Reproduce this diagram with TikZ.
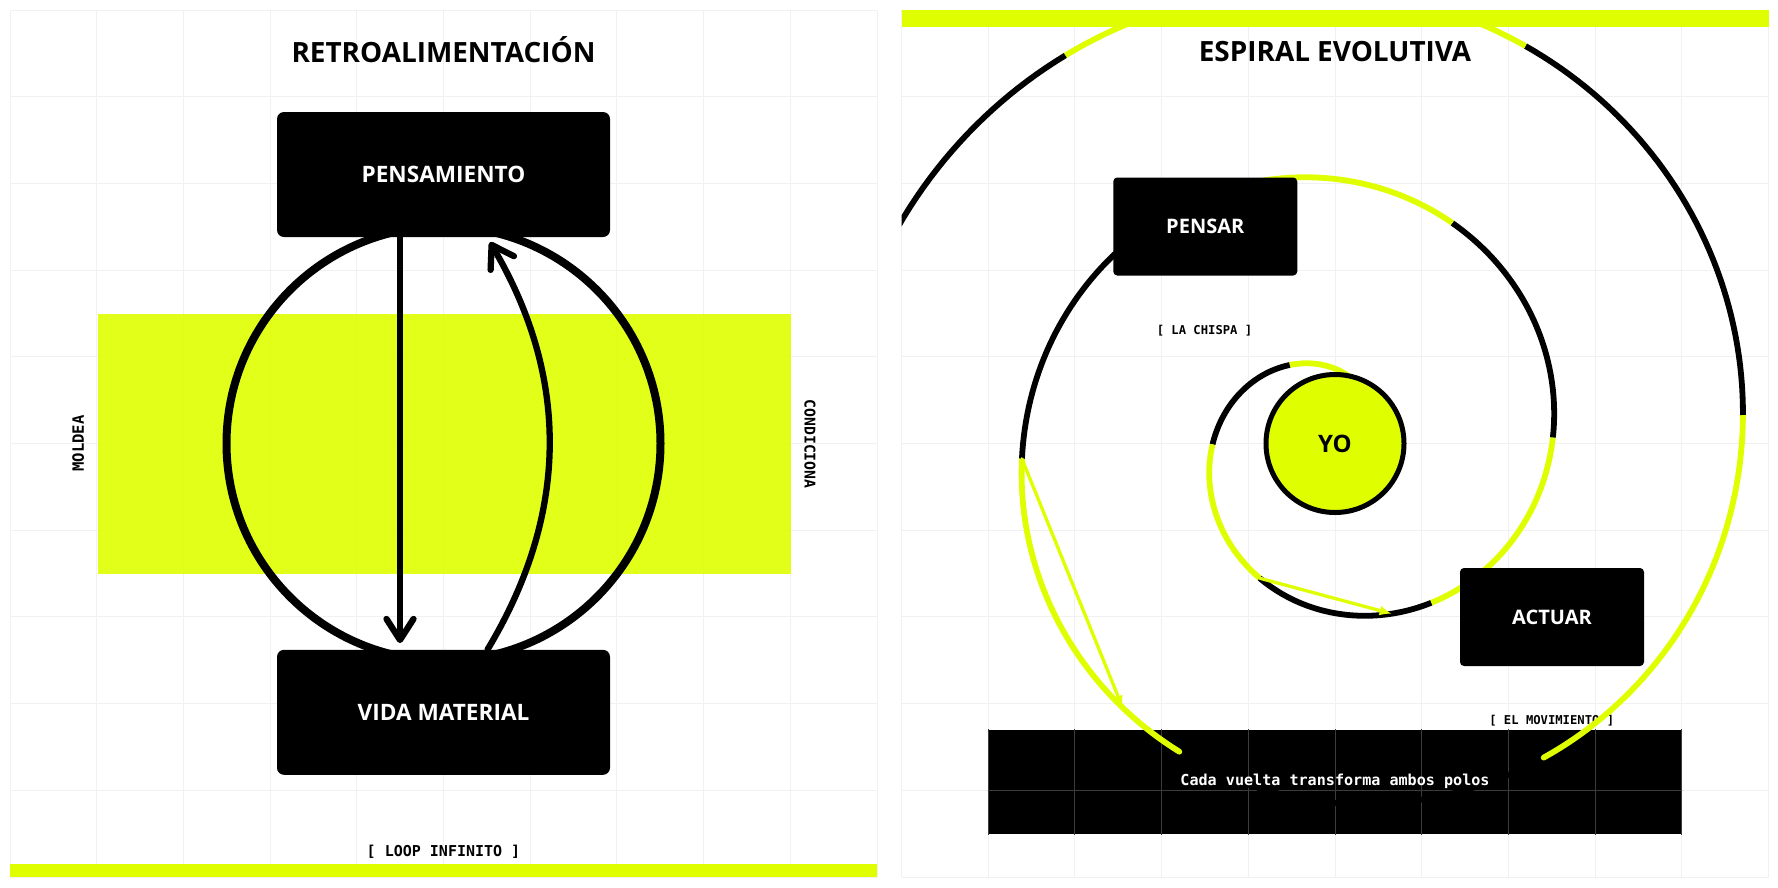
\documentclass[tikz,border=0pt]{standalone}
\usepackage{fontspec}
\usetikzlibrary{arrows.meta}
\newfontfamily\nsans{Open Sans}
\newfontfamily\dmono{DejaVu Sans Mono}
\definecolor{lime}{HTML}{DFFF00}
\definecolor{gridc}{HTML}{F1F1F1}
\definecolor{gridd}{HTML}{3C3C3C}
\begin{document}
\begin{tikzpicture}[x=1pt,y=-1pt,
  gridline/.style={draw=gridc, line width=1pt},
  titlefont/.style={font=\nsans\bfseries\fontsize{27.9pt}{32pt}\selectfont, inner sep=0pt},
  bigbox/.style={fill=black, rounded corners=7pt, minimum width=333pt, minimum height=125pt, inner sep=0pt, text=white, font=\nsans\bfseries\fontsize{22.6pt}{26pt}\selectfont},
  smallbox/.style={fill=black, rounded corners=4pt, minimum width=184pt, minimum height=98pt, inner sep=0pt, text=white, font=\nsans\bfseries\fontsize{20pt}{24pt}\selectfont},
  monolab/.style={font=\dmono\bfseries\fontsize{15pt}{17pt}\selectfont, inner sep=0pt},
  smallmono/.style={font=\dmono\bfseries\fontsize{12.2pt}{14pt}\selectfont, inner sep=0pt},
  arr/.style={line width=6.3pt, line cap=round, -{Straight Barb[length=21pt,width=27pt,round]}},
  spir/.style={line width=5.8pt},
  chord/.style={draw=lime, line width=3.3pt, line cap=round, -{Latex[length=12pt,width=10pt]}}
]
\useasboundingbox (0,0) rectangle (1778,887);
\fill[white] (0,0) rectangle (1778,887);

% ---------- LEFT PANEL ----------
\foreach \i in {0,...,10} {
  \draw[gridline] ({10+86.7*\i},10) -- ({10+86.7*\i},877);
  \draw[gridline] (10,{10+86.7*\i}) -- (877,{10+86.7*\i});
}
\fill[lime, fill opacity=0.9] (97.5,313.5) rectangle (790.5,573.6);
\draw[line width=8pt] (443.5,443.5) circle[radius=217];

\node[bigbox] (pens) at (443.5,174.5) {PENSAMIENTO};
\node[bigbox] (vida) at (443.5,712.3) {VIDA MATERIAL};

\draw[arr] ([xshift=-43.5pt]pens.south) -- ([xshift=-43.5pt,yshift=6.5pt]vida.north);
\draw[arr] ([xshift=44pt]vida.north) .. controls (569,514) and (570,378) .. ([xshift=46.5pt,yshift=-5pt]pens.south);

\node[titlefont, anchor=base] (t1) at (443.5,62.3) {RETROALIMENTACIÓN};
\node[monolab, rotate=90, font=\dmono\bfseries\fontsize{15.6pt}{17pt}\selectfont] (moldea) at (78.3,443.5) {MOLDEA};
\node[monolab, rotate=-90, font=\dmono\bfseries\fontsize{14.8pt}{17pt}\selectfont] (cond) at (810,444) {CONDICIONA};
\node[monolab] (loop) at (443.5,851.5) {[ LOOP INFINITO ]};
\fill[lime] (10,864.3) rectangle (877,877);

% ---------- RIGHT PANEL ----------
\foreach \i in {0,...,10} {
  \draw[gridline] ({901.5+86.7*\i},10) -- ({901.5+86.7*\i},877);
  \draw[gridline] (901.5,{10+86.7*\i}) -- (1768.5,{10+86.7*\i});
}
\node[fill=black, minimum width=694pt, minimum height=104pt, inner sep=0pt] (foot) at (1335,782) {};
\begin{scope}
  \clip (foot.north west) rectangle (foot.south east);
  \foreach \i in {0,...,10} {
    \draw[draw=gridd, line width=1pt] ({901.5+86.7*\i},10) -- ({901.5+86.7*\i},877);
    \draw[draw=gridd, line width=1pt] (901.5,{10+86.7*\i}) -- (1768.5,{10+86.7*\i});
  }
\end{scope}

\node[smallmono] (chispa) at (1204.5,330.5) {[ LA CHISPA ]};
\node[smallmono] (mov) at (1551.7,720.7) {[ EL MOVIMIENTO ]};

\begin{scope}
  \clip (901.5,10) rectangle (1768.5,877);
  \foreach \k/\c in {0/lime,1/black,2/lime,3/black,4/lime,5/black,6/lime,7/black,8/lime,9/black,10/lime,11/black,12/lime,13/black} {
    \pgfmathsetmacro\ta{59.6+60.4*\k}
    \pgfmathsetmacro\tb{\ta+60.4}
    \draw[spir, draw=\c] plot[domain=\ta:\tb, samples=45] ({1335+(27.4+0.527*\x)*cos(\x)}, {443.5-(27.4+0.527*\x)*sin(\x)});
  }
  \fill[lime] ({1335+(27.4+0.527*603.2)*cos(603.2)}, {443.5-(27.4+0.527*603.2)*sin(603.2)}) circle[radius=2.9];
  \fill[lime] ({1335+(27.4+0.527*663.6)*cos(663.6)}, {443.5-(27.4+0.527*663.6)*sin(663.6)}) circle[radius=2.9];
\end{scope}

\node[font=\dmono\bfseries\fontsize{15.1pt}{18pt}\selectfont, text=white, inner sep=0pt] (foottext) at (1335,781) {Cada vuelta transforma ambos polos};

\coordinate (c1s) at ({1335+(27.4+0.527*240.8)*cos(240.8)}, {443.5-(27.4+0.527*240.8)*sin(240.8)});
\coordinate (c1e) at ({1335+(27.4+0.527*288.4)*cos(288.4)}, {443.5-(27.4+0.527*288.4)*sin(288.4)});
\coordinate (c2s) at ({1335+(27.4+0.527*542.8)*cos(542.8)}, {443.5-(27.4+0.527*542.8)*sin(542.8)});
\coordinate (c2e) at ({1335+(27.4+0.527*591.2)*cos(591.2)}, {443.5-(27.4+0.527*591.2)*sin(591.2)});
\draw[chord] (c1s) -- (c1e);
\draw[chord] (c2s) -- (c2e);

\fill[lime] (901.5,10) rectangle (1768.5,26.7);

\node[smallbox] (pensar) at (1205.25,226.5) {PENSAR};
\node[smallbox] (actuar) at (1552,617) {ACTUAR};
\node[circle, fill=lime, draw=black, line width=5pt, minimum size=138pt, inner sep=0pt, font=\nsans\bfseries\fontsize{24pt}{28pt}\selectfont] (yo) at (1335,443.5) {YO};

\node[titlefont, anchor=base] (t2) at (1335,61.5) {ESPIRAL EVOLUTIVA};
\end{tikzpicture}
\end{document}
